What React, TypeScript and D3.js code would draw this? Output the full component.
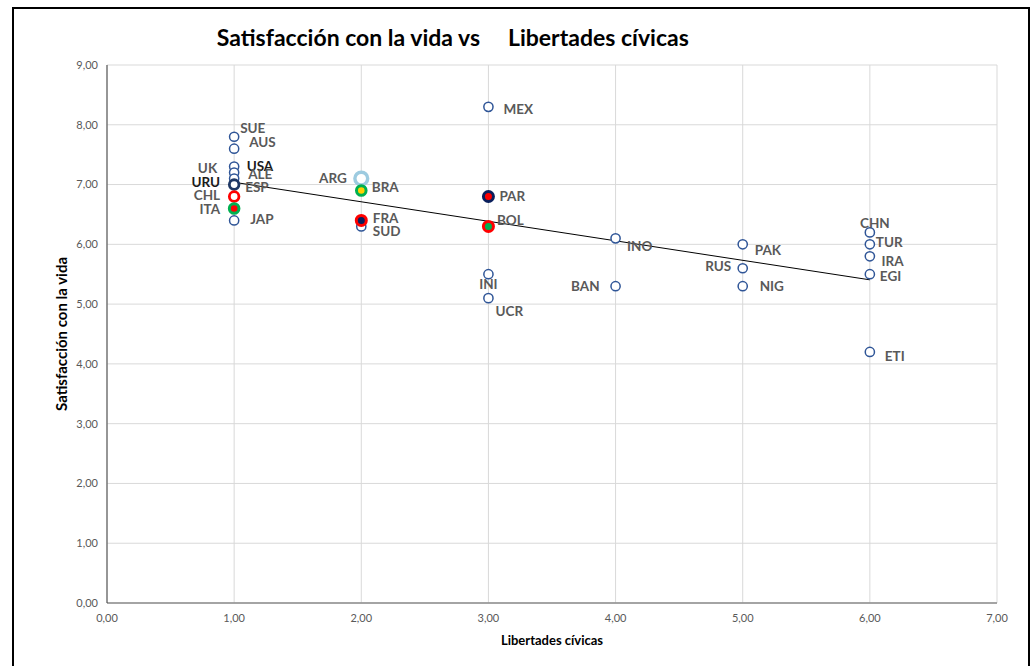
import React from "react";
import * as d3 from "d3";

const countries = ["SUE","AUS","UK","USA","ALE","URU","ESP","CHL","ITA","JAP","ARG","BRA","FRA","SUD","MEX","PAR","BOL","INI","UCR","INO","BAN","PAK","RUS","NIG","CHN","TUR","IRA","EGI","ETI"];
const civilLiberties = [1,1,1,1,1,1,1,1,1,1,2,2,2,2,3,3,3,3,3,4,4,5,5,5,6,6,6,6,6];
const lifeSatisfaction = [7.8,7.6,7.3,7.2,7.1,7.0,7.0,6.8,6.6,6.4,7.1,6.9,6.4,6.3,8.3,6.8,6.3,5.5,5.1,6.1,5.3,6.0,5.6,5.3,6.2,6.0,5.8,5.5,4.2];
const xTicks = [0,1,2,3,4,5,6,7];
const yTicks = [0,1,2,3,4,5,6,7,8,9];

const titleLeft = "Satisfacción con la vida vs";
const titleRight = "Libertades cívicas";
const xTitle = "Libertades cívicas";
const yTitle = "Satisfacción con la vida";

// marker styles (stroke, fill, stroke width, radius)
const specialMarkers: Record<string, { stroke: string; fill: string; sw: number; r: number }> = {
  URU: { stroke: "#1F3864", fill: "#FFFFFF", sw: 2.8, r: 4.8 },
  CHL: { stroke: "#FF0000", fill: "#FFFFFF", sw: 2.8, r: 4.8 },
  ITA: { stroke: "#00B050", fill: "#FF0000", sw: 3, r: 4.8 },
  ARG: { stroke: "#9DCBE0", fill: "#FFFFFF", sw: 3.4, r: 6.4 },
  BRA: { stroke: "#00B050", fill: "#FFD000", sw: 3, r: 4.8 },
  FRA: { stroke: "#FF0000", fill: "#0A1F5C", sw: 3, r: 5 },
  PAR: { stroke: "#0A1F5C", fill: "#FF0000", sw: 3, r: 5 },
  BOL: { stroke: "#FF0000", fill: "#00B050", sw: 3, r: 5 },
};

// label placement: [dx, dy, anchor]
const labelPlace: Record<string, [number, number, string]> = {
  SUE: [6, -8.5, "start"], AUS: [15, -6, "start"], UK: [-17, 1.5, "end"], USA: [12.5, -6, "start"],
  ALE: [14, -4.5, "start"], URU: [-14, -1.8, "end"], ESP: [11, 2.8, "start"], CHL: [-14, -1.5, "end"],
  ITA: [-14, 0.5, "end"], JAP: [16, -1, "start"], ARG: [-14.5, 0, "end"], BRA: [10.5, -3, "start"],
  FRA: [11.5, -2, "start"], SUD: [11.5, 5, "start"], MEX: [15, 2.5, "start"], PAR: [11, 0, "start"],
  BOL: [8.5, -6.4, "start"], INI: [0, 10, "middle"], UCR: [7, 13.6, "start"], INO: [11.5, 7.7, "start"],
  BAN: [-16, 0.5, "end"], PAK: [12, 6.4, "start"], RUS: [-11.5, -2, "end"], NIG: [17, 0.5, "start"],
  CHN: [5, -9, "middle"], TUR: [6, -2, "start"], IRA: [11.6, 5.4, "start"], EGI: [10, 2, "start"],
  ETI: [15, 4, "start"],
};
const darkLabels = ["USA", "URU"];

const FONT = "Lato, 'Open Sans', sans-serif";

export default function App() {
  const x = d3.scaleLinear().domain([0, 7]).range([107, 997]);
  const y = d3.scaleLinear().domain([0, 9]).range([603, 65]);
  const fmt = (v: number) => d3.format(".2f")(v).replace(".", ",");

  const n = countries.length;
  const mx = d3.mean(civilLiberties) as number;
  const my = d3.mean(lifeSatisfaction) as number;
  let sxy = 0, sxx = 0;
  for (let i = 0; i < n; i++) {
    sxy += (civilLiberties[i] - mx) * (lifeSatisfaction[i] - my);
    sxx += (civilLiberties[i] - mx) ** 2;
  }
  const slope = sxy / sxx;
  const intercept = my - slope * mx;
  const [x0, x1] = d3.extent(civilLiberties) as [number, number];
  const trend = d3.line<number>().x((d) => x(d)).y((d) => y(intercept + slope * d))([x0, x1]);

  const order = countries.map((c, i) => i).sort((a, b) => {
    const sa = specialMarkers[countries[a]] ? 1 : 0;
    const sb = specialMarkers[countries[b]] ? 1 : 0;
    return sa - sb;
  });

  return (
    <svg width={1035} height={666} style={{ position: "absolute", left: 0, top: 0, background: "#fff" }} fontFamily={FONT}>
      <rect x={0} y={0} width={1035} height={666} fill="#fff" />
      <rect x={13} y={8} width={1016} height={670} fill="#fff" stroke="#000" strokeWidth={2} />
      <text x={480} y={46} textAnchor="end" fontSize={23} fontWeight={700} fill="#000">{titleLeft}</text>
      <text x={508} y={46} textAnchor="start" fontSize={23} fontWeight={700} fill="#000">{titleRight}</text>

      {yTicks.map((t) => (
        <line key={"gy" + t} x1={x(0)} x2={x(7)} y1={y(t)} y2={y(t)} stroke="#D9D9D9" strokeWidth={1} />
      ))}
      {xTicks.map((t) => (
        <line key={"gx" + t} x1={x(t)} x2={x(t)} y1={y(0)} y2={y(9)} stroke="#D9D9D9" strokeWidth={1} />
      ))}
      <line x1={x(0)} x2={x(7)} y1={y(0)} y2={y(0)} stroke="#8C8C8C" strokeWidth={1.3} />
      <line x1={x(0)} x2={x(0)} y1={y(0)} y2={y(9)} stroke="#404040" strokeWidth={1} />

      {yTicks.map((t) => (
        <text key={"ty" + t} x={98} y={y(t)} dy="0.35em" textAnchor="end" fontSize={11} fill="#595959">{fmt(t)}</text>
      ))}
      {xTicks.map((t) => (
        <text key={"tx" + t} x={x(t)} y={618} dy="0.35em" textAnchor="middle" fontSize={11} fill="#595959">{fmt(t)}</text>
      ))}
      <text x={552} y={640} dy="0.35em" textAnchor="middle" fontSize={13} fontWeight={700} fill="#000">{xTitle}</text>
      <text transform={`translate(62,334) rotate(-90)`} dy="0.35em" textAnchor="middle" fontSize={15} fontWeight={700} fill="#000">{yTitle}</text>

      {trend && <path d={trend} fill="none" stroke="#000" strokeWidth={1} />}

      {order.map((i) => {
        const c = countries[i];
        const s = specialMarkers[c] || { stroke: "#2F5597", fill: "#FFFFFF", sw: 1.5, r: 4.6 };
        return (
          <circle key={"p" + c} cx={x(civilLiberties[i])} cy={y(lifeSatisfaction[i])} r={s.r} fill={s.fill} stroke={s.stroke} strokeWidth={s.sw} />
        );
      })}

      {countries.map((c, i) => {
        const [dx, dy, anchor] = labelPlace[c];
        return (
          <text key={"l" + c} x={x(civilLiberties[i]) + dx} y={y(lifeSatisfaction[i]) + dy} dy="0.35em" textAnchor={anchor as any}
            fontSize={13.5} fontWeight={700} fill={darkLabels.includes(c) ? "#1A1A1A" : "#595959"}>{c}</text>
        );
      })}
    </svg>
  );
}
